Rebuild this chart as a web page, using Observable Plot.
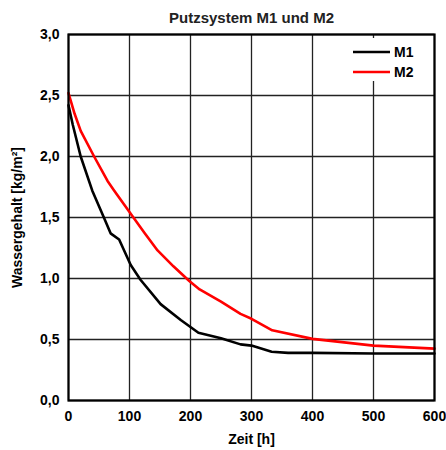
<!DOCTYPE html>
<html>
<head>
<meta charset="utf-8">
<script src="https://cdn.jsdelivr.net/npm/d3@7"></script>
<script src="https://cdn.jsdelivr.net/npm/@observablehq/plot@0.6"></script>
<style>
  html, body { margin: 0; padding: 0; background: #fff; }
  #wrap { position: relative; width: 446px; height: 450px; font-family: "Liberation Sans", Arial, sans-serif; }
  #legend { position: absolute; left: 350px; top: 38px; width: 82px; height: 43px; background: #fff; }
  .item { position: absolute; left: 3px; height: 18px; display: flex; align-items: center; font-weight: bold; font-size: 14px; color: #000; }
  .item svg { margin-right: 4px; }
</style>
</head>
<body>
<div id="wrap"></div>
<script>
const title = "Putzsystem M1 und M2";
const xLabel = "Zeit [h]";
const yLabel = "Wassergehalt [kg/m²]";
const seriesNames = ["M1", "M2"];
const seriesColors = ["#000000", "#ff0000"];
const xTicks = [0, 100, 200, 300, 400, 500, 600];
const yTicks = [0, 0.5, 1.0, 1.5, 2.0, 2.5, 3.0];

const m1Time  = [0, 7, 20, 39, 58, 69, 83, 102, 118, 151, 184, 213, 250, 282, 300, 333, 360, 400, 500, 600];
const m1Value = [2.42, 2.26, 2.0, 1.72, 1.5, 1.37, 1.32, 1.11, 0.99, 0.79, 0.66, 0.555, 0.51, 0.46, 0.45, 0.40, 0.39, 0.39, 0.385, 0.385];
const m2Time  = [0, 10, 20, 42, 64, 75, 102, 125, 146, 172, 198, 215, 250, 282, 300, 334, 400, 500, 600];
const m2Value = [2.52, 2.35, 2.21, 2.0, 1.80, 1.72, 1.53, 1.37, 1.23, 1.10, 0.98, 0.91, 0.81, 0.71, 0.67, 0.575, 0.505, 0.45, 0.425];

const data = [
  ...m1Time.map((t, i) => ({series: "M1", t, v: m1Value[i]})),
  ...m2Time.map((t, i) => ({series: "M2", t, v: m2Value[i]}))
];

const fmt = d => d.toFixed(1).replace(".", ",");

const chart = Plot.plot({
  width: 446,
  height: 450,
  marginTop: 34,
  marginLeft: 68,
  marginRight: 12,
  marginBottom: 50,
  style: {fontFamily: "'Liberation Sans', Arial, sans-serif", fontSize: "14px", fontWeight: "bold", color: "#000", background: "#fff"},
  x: {domain: [0, 600], ticks: xTicks},
  y: {domain: [0, 3], ticks: yTicks},
  color: {domain: seriesNames, range: seriesColors},
  marks: [
    Plot.gridX(xTicks, {stroke: "#222", strokeOpacity: 1, strokeWidth: 1.3}),
    Plot.gridY(yTicks, {stroke: "#222", strokeOpacity: 1, strokeWidth: 1.3}),
    Plot.axisX(xTicks, {tickSize: 0, tickPadding: 11, tickFormat: d => String(d), label: xLabel, labelAnchor: "center", labelArrow: "none", labelOffset: 43, fontSize: 14, fontWeight: "bold"}),
    Plot.axisY(yTicks, {tickSize: 0, tickPadding: 9, tickFormat: fmt, label: yLabel, labelAnchor: "center", labelArrow: "none", labelOffset: 56, fontSize: 14, fontWeight: "bold"}),
    Plot.line(data, {x: "t", y: "v", z: "series", stroke: "series", strokeWidth: 2.6}),
    Plot.frame({stroke: "#000", strokeWidth: 2.2}),
    Plot.text([title], {frameAnchor: "top", dy: -22, fontSize: 15, fontWeight: "bold", fill: "#222"})
  ]
});

const wrap = document.getElementById("wrap");
wrap.appendChild(chart);

const legend = document.createElement("div");
legend.id = "legend";
seriesNames.forEach((name, i) => {
  const item = document.createElement("div");
  item.className = "item";
  item.style.top = (5 + i * 20) + "px";
  item.innerHTML = `<svg width="37" height="4"><line x1="0" x2="37" y1="2" y2="2" stroke="${seriesColors[i]}" stroke-width="2.6"/></svg>${name}`;
  legend.appendChild(item);
});
wrap.appendChild(legend);
</script>
</body>
</html>
